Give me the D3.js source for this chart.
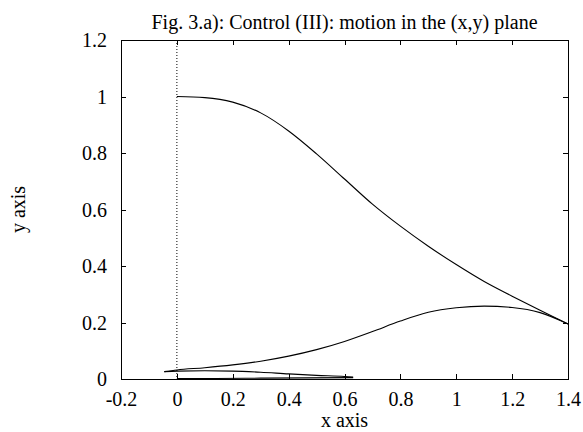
<!DOCTYPE html>
<html>
<head>
<meta charset="utf-8">
<script src="https://cdn.jsdelivr.net/npm/d3@7"></script>
<style>
  html, body { margin: 0; padding: 0; background: #fff; }
  svg { display: block; }
  text { font-family: "Liberation Serif", "Times New Roman", serif; fill: #000; }
</style>
</head>
<body>
<svg id="chart" width="583" height="432"></svg>
<script>
// ---- data ----
const titleText = "Fig. 3.a): Control (III): motion in the (x,y) plane";
const xLabel = "x axis";
const yLabel = "y axis";
const xTicks = [-0.2, 0, 0.2, 0.4, 0.6, 0.8, 1, 1.2, 1.4];
const xTickLabels = ["-0.2", "0", "0.2", "0.4", "0.6", "0.8", "1", "1.2", "1.4"];
const yTicks = [0, 0.2, 0.4, 0.6, 0.8, 1, 1.2];
const yTickLabels = ["0", "0.2", "0.4", "0.6", "0.8", "1", "1.2"];

// outgoing branch from (0,1) to (1.4,0.195)
const upperX = [0, 0.1, 0.2, 0.3, 0.4, 0.5, 0.6, 0.7, 0.8, 0.9, 1.0, 1.1, 1.2, 1.3, 1.4];
const upperY = [1.0, 0.996, 0.98, 0.942, 0.878, 0.797, 0.708, 0.619, 0.541, 0.470, 0.405, 0.345, 0.293, 0.243, 0.195];
// return branch from (1.4,0.195) back to (-0.045,0.026)
const returnX = [1.4, 1.3, 1.2, 1.1, 1.0, 0.9, 0.8, 0.7, 0.6, 0.5, 0.4, 0.3, 0.2, 0.1, 0, -0.045];
const returnY = [0.195, 0.235, 0.253, 0.258, 0.252, 0.236, 0.205, 0.168, 0.133, 0.104, 0.081, 0.063, 0.05, 0.04, 0.032, 0.026];
// small loop near the ground
const smallX = [-0.045, 0, 0.1, 0.2, 0.3, 0.4, 0.5, 0.6, 0.631];
const smallY = [0.026, 0.028, 0.029, 0.028, 0.024, 0.018, 0.013, 0.009, 0.007];
// final branch lying on the ground
const baseX = [0.631, 0.3, 0.14, 0];
const baseY = [0.005, 0.003, 0.002, 0.002];

// ---- layout ----
const svg = d3.select("#chart");
const mLeft = 121, mRight = 568, mTop = 40, mBottom = 379;
const x = d3.scaleLinear().domain([-0.2, 1.4]).range([mLeft, mRight]);
const y = d3.scaleLinear().domain([0, 1.2]).range([mBottom, mTop]);
const fs = 20;
const tickLen = 5;

// zero axis (dotted) x = 0
svg.append("line")
  .attr("x1", x(0)).attr("x2", x(0)).attr("y1", y(1.2)).attr("y2", y(0))
  .attr("stroke", "#000").attr("stroke-width", 1).attr("stroke-dasharray", "1,2");

// border
svg.append("rect")
  .attr("x", mLeft).attr("y", mTop).attr("width", mRight - mLeft).attr("height", mBottom - mTop)
  .attr("fill", "none").attr("stroke", "#000").attr("stroke-width", 1)
  .attr("shape-rendering", "crispEdges");

// ticks (inward, mirrored) via d3 axes
const axB = d3.axisBottom(x).tickValues(xTicks).tickSizeInner(-tickLen).tickSizeOuter(0)
  .tickFormat((d, i) => xTickLabels[i]);
const axT = d3.axisTop(x).tickValues(xTicks).tickSizeInner(-tickLen).tickSizeOuter(0).tickFormat("");
const axL = d3.axisLeft(y).tickValues(yTicks).tickSizeInner(-tickLen).tickSizeOuter(0)
  .tickFormat((d, i) => yTickLabels[i]);
const axR = d3.axisRight(y).tickValues(yTicks).tickSizeInner(-tickLen).tickSizeOuter(0).tickFormat("");

function styleAxis(g) {
  g.select(".domain").remove();
  g.selectAll(".tick line").attr("stroke", "#000").attr("shape-rendering", "crispEdges");
  g.selectAll(".tick text").attr("font-family", "Liberation Serif, serif").attr("font-size", fs).attr("fill", "#000");
}

const gB = svg.append("g").attr("transform", `translate(0,${mBottom})`).call(axB).call(styleAxis);
gB.selectAll(".tick text").attr("y", 27).attr("dy", 0);
svg.append("g").attr("transform", `translate(0,${mTop})`).call(axT).call(styleAxis);
const gL = svg.append("g").attr("transform", `translate(${mLeft},0)`).call(axL).call(styleAxis);
gL.selectAll(".tick text").attr("x", -14).attr("dy", "0.33em");
svg.append("g").attr("transform", `translate(${mRight},0)`).call(axR).call(styleAxis);

// curves (each branch is drawn with points ordered by x so a monotone spline can be used)
const line = d3.line().x(d => x(d[0])).y(d => y(d[1])).curve(d3.curveMonotoneX);
function seg(xs, ys) { return xs.map((v, i) => [v, ys[i]]).sort((a, b) => a[0] - b[0]); }
[[upperX, upperY], [returnX, returnY], [smallX, smallY], [baseX, baseY]].forEach(([xs, ys]) => {
  svg.append("path")
    .attr("d", line(seg(xs, ys)))
    .attr("fill", "none").attr("stroke", "#000").attr("stroke-width", 1.1);
});

// labels
svg.append("text").attr("x", (mLeft + mRight) / 2).attr("y", 29)
  .attr("text-anchor", "middle").attr("font-size", fs).text(titleText);
svg.append("text").attr("x", (mLeft + mRight) / 2).attr("y", 427)
  .attr("text-anchor", "middle").attr("font-size", fs).text(xLabel);
svg.append("text").attr("transform", `translate(25,${(mTop + mBottom) / 2}) rotate(-90)`)
  .attr("text-anchor", "middle").attr("font-size", fs).text(yLabel);
</script>
</body>
</html>
